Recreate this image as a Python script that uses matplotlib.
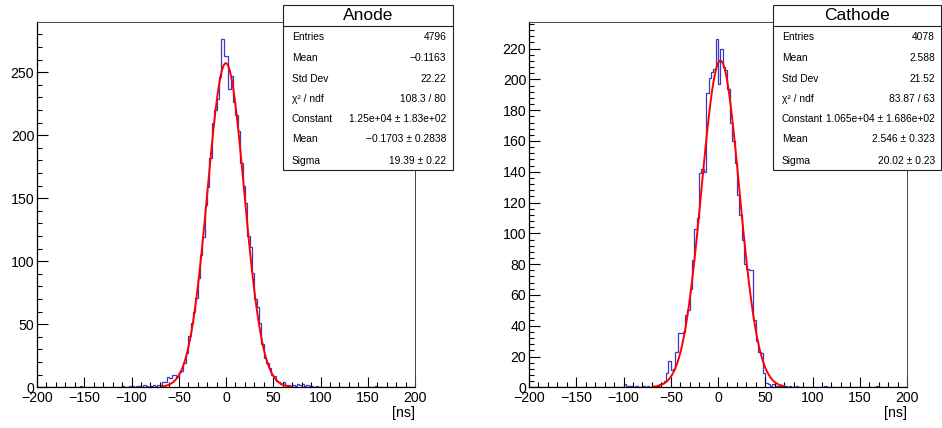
import numpy as np
import matplotlib
matplotlib.use("Agg")
import matplotlib.pyplot as plt
from matplotlib.ticker import MultipleLocator
from matplotlib.patches import Rectangle

plt.rcParams["font.family"] = ["Liberation Sans", "DejaVu Sans"]

# Histogram binning: 160 bins of 2.5 ns from -200 to 200 ns
x_lo, x_hi, n_bins = -200.0, 200.0, 160

# Anode timing counts, one row per 25 ns
anode_counts = [
    0, 0, 0, 0, 0, 0, 0, 0, 0, 0,
    0, 0, 0, 0, 0, 0, 0, 0, 1, 0,
    0, 0, 0, 0, 0, 0, 0, 0, 0, 0,
    0, 0, 0, 0, 0, 0, 1, 0, 0, 1,
    1, 0, 1, 1, 0, 2, 1, 0, 1, 2,
    1, 2, 2, 4, 4, 8, 7, 10, 10, 8,
    12, 13, 19, 27, 41, 51, 60, 71, 87, 105,
    119, 145, 159, 182, 210, 220, 229, 246, 276, 263,
    263, 237, 247, 226, 216, 203, 178, 160, 146, 120,
    111, 91, 70, 64, 51, 34, 23, 19, 15, 10,
    9, 5, 4, 3, 4, 2, 2, 1, 2, 1,
    3, 2, 3, 1, 2, 1, 1, 0, 1, 0,
    0, 0, 0, 0, 0, 0, 0, 0, 0, 0,
    0, 0, 0, 0, 0, 0, 0, 0, 0, 0,
    0, 0, 0, 1, 0, 0, 0, 0, 0, 0,
    0, 0, 0, 0, 0, 0, 0, 0, 0, 0,
]

# Cathode timing counts, one row per 25 ns
cathode_counts = [
    0, 0, 0, 0, 0, 0, 0, 0, 0, 0,
    0, 0, 0, 0, 0, 0, 0, 0, 0, 0,
    0, 0, 0, 0, 0, 0, 0, 0, 0, 0,
    0, 0, 0, 0, 0, 0, 0, 0, 0, 0,
    2, 1, 1, 1, 0, 1, 0, 0, 1, 0,
    1, 0, 1, 0, 1, 2, 3, 4, 9, 17,
    11, 12, 23, 35, 35, 36, 47, 50, 64, 83,
    103, 110, 139, 142, 140, 191, 201, 205, 207, 226,
    197, 220, 208, 206, 194, 172, 160, 146, 125, 112,
    96, 80, 77, 76, 76, 44, 30, 23, 22, 9,
    3, 2, 1, 2, 1, 1, 1, 0, 1, 0,
    1, 0, 0, 1, 0, 0, 0, 0, 0, 0,
    0, 0, 0, 0, 0, 1, 0, 0, 0, 0,
    0, 0, 0, 0, 0, 0, 0, 0, 0, 0,
    0, 0, 0, 0, 0, 0, 0, 1, 0, 0,
    0, 0, 0, 0, 0, 0, 0, 0, 0, 0,
]

# Gaussian fit results (normalised gaussian: constant is the area)
anode_fit = dict(constant=1.25e4, mean=-0.1703, sigma=19.39, lo=-68.0, hi=68.0)
cathode_fit = dict(constant=1.065e4, mean=2.546, sigma=20.02, lo=-68.5, hi=70.0)

anode_stats = [
    ("Entries", "4796"),
    ("Mean", "\u22120.1163"),
    ("Std Dev", "22.22"),
    ("\u03c7\u00b2 / ndf", "108.3 / 80"),
    ("Constant", "1.25e+04 \u00b1 1.83e+02"),
    ("Mean", "\u22120.1703 \u00b1 0.2838"),
    ("Sigma", "19.39 \u00b1 0.22"),
]
cathode_stats = [
    ("Entries", "4078"),
    ("Mean", "2.588"),
    ("Std Dev", "21.52"),
    ("\u03c7\u00b2 / ndf", "83.87 / 63"),
    ("Constant", "1.065e+04 \u00b1 1.686e+02"),
    ("Mean", "2.546 \u00b1 0.323"),
    ("Sigma", "20.02 \u00b1 0.23"),
]

W, H = 942, 428
fig = plt.figure(figsize=(W / 100, H / 100), dpi=100)


def fx(px):
    return px / W


def fy(py):
    return 1 - py / H


def draw_panel(rect_px, counts, fit, y_major, y_minor, title, stats, box_px):
    l, t, r, b = rect_px
    ax = fig.add_axes([fx(l), fy(b), fx(r - l), (b - t) / H])
    edges = np.linspace(x_lo, x_hi, n_bins + 1)
    vals = np.asarray(counts, dtype=float)
    ax.stairs(vals, edges, color="#3838c4", lw=0.9, baseline=None)

    xs = np.linspace(fit["lo"], fit["hi"], 101)
    ys = fit["constant"] / (np.sqrt(2 * np.pi) * fit["sigma"]) * np.exp(
        -0.5 * ((xs - fit["mean"]) / fit["sigma"]) ** 2)
    ax.plot(xs, ys, color="#ff0000", lw=1.4)

    ax.set_xlim(x_lo, x_hi)
    ax.set_ylim(0, 1.05 * vals.max())
    ax.xaxis.set_major_locator(MultipleLocator(50))
    ax.xaxis.set_minor_locator(MultipleLocator(10))
    ax.yaxis.set_major_locator(MultipleLocator(y_major))
    ax.yaxis.set_minor_locator(MultipleLocator(y_minor))
    ax.tick_params(which="both", direction="in", width=0.8, color="black",
                   top=False, right=False, labelsize=10.2)
    ax.tick_params(axis="x", which="major", length=7.2, pad=3)
    ax.tick_params(axis="x", which="minor", length=3.6)
    ax.tick_params(axis="y", which="major", length=7.6, pad=2)
    ax.tick_params(axis="y", which="minor", length=3.8)
    for s in ("left", "bottom"):
        ax.spines[s].set_linewidth(0.9)
        ax.spines[s].set_color("black")
    for s in ("top", "right"):
        ax.spines[s].set_linewidth(0.7)
        ax.spines[s].set_color("#444444")
    fig.text(fx(r), fy(413), "[ns]", ha="right", va="center", fontsize=10.2)

    # statistics box
    bl, bt, br, bb, bsep = box_px
    fig.patches.append(Rectangle((fx(bl), fy(bb)), fx(br - bl), (bb - bt) / H,
                                 transform=fig.transFigure, facecolor="white",
                                 edgecolor="#222222", lw=0.8, zorder=5))
    fig.lines.append(plt.Line2D([fx(bl), fx(br)], [fy(bsep), fy(bsep)],
                                transform=fig.transFigure, color="#222222",
                                lw=0.8, zorder=6))
    fig.text(fx((bl + br) / 2), fy((bt + bsep) / 2 + 0.5), title, ha="center",
             va="center", fontsize=12.5, zorder=7)
    row_y = [36.7, 58.3, 79.0, 99.3, 119.3, 139.5, 160.5]
    for (lab, val), yy in zip(stats, row_y):
        fig.text(fx(bl + 8.5), fy(yy), lab, ha="left", va="center",
                 fontsize=7.4, zorder=7)
        fig.text(fx(br - 6.5), fy(yy), val, ha="right", va="center",
                 fontsize=7.4, zorder=7)
    return ax


draw_panel((37, 22, 415, 387.3), anode_counts, anode_fit, 50, 10,
           "Anode", anode_stats, (283.3, 5, 452.7, 170, 26))
draw_panel((529, 22, 907, 387.3), cathode_counts, cathode_fit, 20, 4,
           "Cathode", cathode_stats, (773.3, 5, 941.3, 170, 26))

fig.savefig("out.png", dpi=100, facecolor="white")
